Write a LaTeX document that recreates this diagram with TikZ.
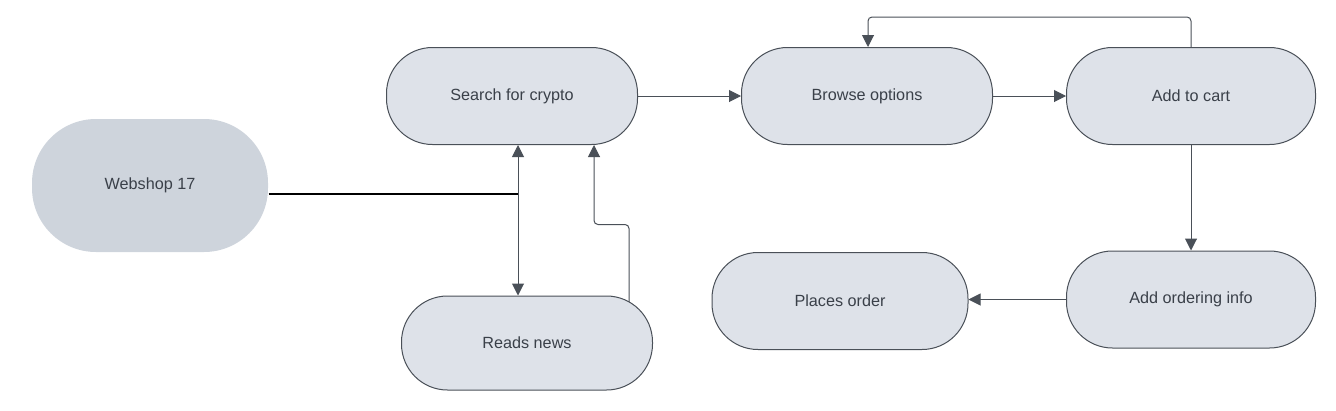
\documentclass[tikz,border=0pt]{standalone}
\usepackage{fontspec}
\setmainfont{Liberation Sans}
\usetikzlibrary{arrows.meta, backgrounds}
\definecolor{boxfill}{HTML}{DEE2E9}
\definecolor{hubfill}{HTML}{CED4DC}
\definecolor{boxline}{HTML}{4A5058}
\definecolor{boxtext}{HTML}{3A4049}

\tikzset{
    stepbox/.style={draw=boxline, line width=1pt, fill=boxfill, rounded corners=46pt,
        minimum width=251pt, minimum height=97pt, inner sep=0pt,
        text=boxtext, font=\fontsize{16.2}{19}\selectfont},
    hubbox/.style={stepbox, draw=none, fill=hubfill, rounded corners=64pt,
        minimum width=236pt, minimum height=133pt},
    flow/.style={draw=boxline, line width=1pt, rounded corners=4pt,
        -{Triangle[length=12pt, width=12pt]}}
}

\begin{document}
\begin{tikzpicture}[x=1pt, y=-1pt]
    \useasboundingbox (0,0) rectangle (1336,410);
    \node[hubbox] (web) at (150,185.5) {Webshop 17};
    \node[stepbox] (search) at (512,96) {Search for crypto};
    \node[stepbox] (browse) at (867,96) {Browse options};
    \node[stepbox, minimum width=249pt] (cart) at (1191,96) {Add to cart};
    \node[stepbox, minimum height=94pt] (news) at (527,343) {Reads news};
    \node[stepbox, minimum width=256pt] (order) at (840,301) {Places order};
    \node[stepbox, minimum width=249pt] (info) at (1191,299.5) {Add ordering info};
    \coordinate (joint) at (518,194);
    \begin{scope}[on background layer]
    \draw[line width=2pt] (joint -| web.east) -- (joint);
    \draw[flow, {Triangle[length=12pt, width=12pt]}-{Triangle[length=12pt, width=12pt]}]
        ([xshift=6pt]search.south) -- ([xshift=-9pt]news.north);
    \draw[flow] ([xshift=102pt, yshift=-8pt]news.north) -- ++(0,-79) -| ([xshift=82pt]search.south);
    \draw[flow] (search.east) -- (browse.west);
    \draw[flow] (browse.east) -- (cart.west);
    \draw[flow] (cart.north) -- ++(0,-30) -| ([xshift=1pt]browse.north);
    \draw[flow] (cart.south) -- (info.north);
    \draw[flow] (info.west) -- (info.west -| order.east);
    \end{scope}
\end{tikzpicture}
\end{document}
